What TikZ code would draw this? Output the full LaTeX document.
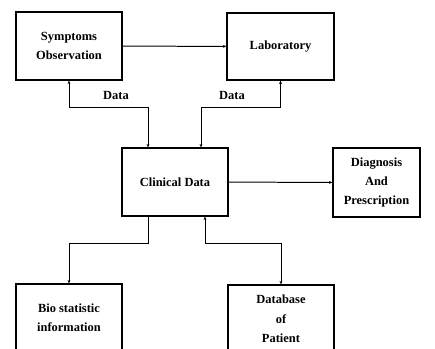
\documentclass[tikz,border=0pt]{standalone}
\usepackage{fontspec}
\setmainfont{Liberation Serif}
\usetikzlibrary{arrows.meta}
\tikzset{
  blk/.style={draw,rectangle,line width=1.3pt,minimum width=106bp,minimum height=68bp,align=center,inner sep=2pt,
    font=\bfseries\fontsize{12.5}{19.5}\selectfont},
  lnk/.style={line width=1pt,-{Stealth[length=3.5pt,width=3pt]}},
  blnk/.style={line width=1pt,{Stealth[length=3.5pt,width=3pt]}-{Stealth[length=3.5pt,width=3pt]}},
  lbl/.style={font=\bfseries\fontsize{12.5}{15}\selectfont,inner sep=1pt}
}
\begin{document}
\begin{tikzpicture}
  \useasboundingbox (0bp,0bp) rectangle (435bp,349bp);
  \node (Symp) at (69bp,303bp) [blk] {Symptoms\\Observation};
  \node (Lab) at (280.5bp,302.5bp) [blk,minimum width=107bp,minimum height=67bp] {Laboratory};
  \node (Clin) at (175bp,167bp) [blk] {Clinical Data};
  \node (Diag) at (376.5bp,166.5bp) [blk,minimum width=87bp,minimum height=69bp] {Diagnosis\\And\\Prescription};
  \node (Bio) at (69bp,31bp) [blk] {Bio statistic\\information};
  \node (Db) at (281bp,30bp) [blk] {Database\\of\\Patient};
  \node (D1) at (116bp,254bp) [lbl] {Data};
  \node (D2) at (232bp,254bp) [lbl] {Data};
  \draw [lnk] (Symp) -- (Lab);
  \draw [blnk] (Symp.south) -- ++(0,-27bp) -| ([xshift=-27bp]Clin.north);
  \draw [blnk] (Lab.south) -- ++(0,-27bp) -| ([xshift=26bp]Clin.north);
  \draw [lnk] (Clin) -- (Diag);
  \draw [lnk] ([xshift=-27bp]Clin.south) -- ++(0,-27bp) -| (Bio.north);
  \draw [blnk] ([xshift=30bp]Clin.south) -- ++(0,-27bp) -| (Db.north);
\end{tikzpicture}
\end{document}
